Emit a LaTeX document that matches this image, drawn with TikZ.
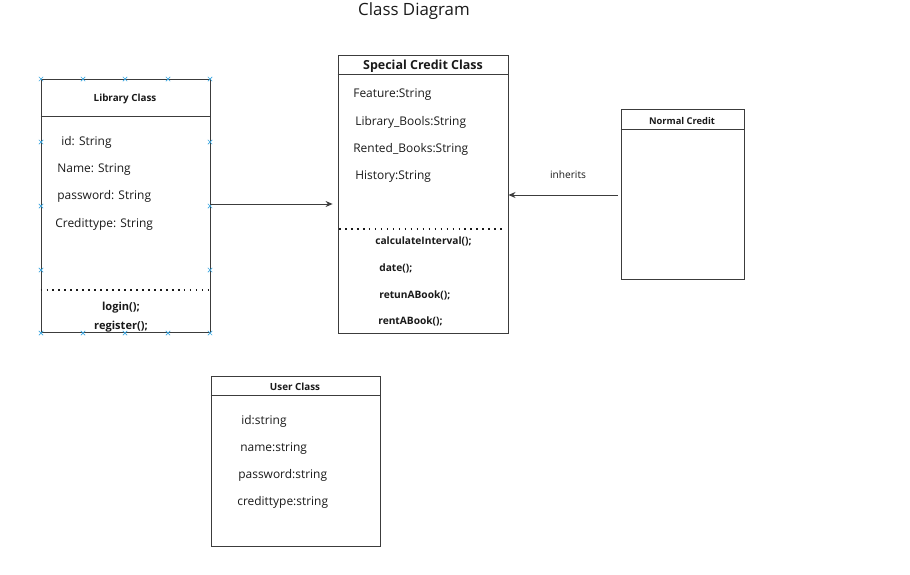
\documentclass[tikz,border=0pt]{standalone}
\usepackage{fontspec}
\setmainfont{Open Sans}
\usepackage{xcolor}
\definecolor{umlEncre}{HTML}{1A1A1A}
\definecolor{umlTrait}{HTML}{3C3C3C}
\definecolor{umlPoignee}{HTML}{3AA6E0}
\usetikzlibrary{arrows.meta, positioning}
\tikzset{
  %% boxes of the class diagram, empty shells; texts are set on top
  classe/.style      = {draw=umlTrait, line width=0.55pt, fill=white,
                        inner sep=0pt},
  titreClasse/.style = {font=\fontsize{5.6}{6}\selectfont\bfseries,
                        text=umlEncre, inner sep=0pt},
  attribut/.style    = {font=\fontsize{6.8}{8}\selectfont, text=umlEncre,
                        anchor=west, inner sep=0pt},
  methode/.style     = {font=\fontsize{5.8}{7}\selectfont\bfseries,
                        text=umlEncre, anchor=west, inner sep=0pt},
  separateur/.style  = {draw=umlEncre, line width=0.9pt,
                        dash pattern=on 0.9pt off 2.5pt},
  fleche/.style      = {-{Stealth[length=4pt, width=3.4pt]}, draw=umlTrait,
                        line width=0.55pt},
  etiquette/.style   = {font=\fontsize{5.8}{7}\selectfont, text=umlEncre,
                        inner sep=0pt},
  poignee/.style     = {draw=umlPoignee, line width=0.4pt},
}

\begin{document}
\begin{tikzpicture}[x=0.02cm, y=-0.02cm]
\useasboundingbox (0,0) rectangle (910,575);

\node[font=\fontsize{9.6}{11}\selectfont, text=umlEncre] (titre) at (414,11.5)
     {Class Diagram};

%% Library Class
\node[classe, minimum width=3.38cm, minimum height=5.08cm] (lib) at (125.5,206) {};
\draw[umlTrait, line width=0.55pt] (lib.west |- 0,116) -- (lib.east |- 0,116);
\node[titreClasse] (libT) at (125,99) {Library Class};
\node[attribut] (libA1) at (61,142.5) {id: String};
\node[attribut] (libA2) at (57,169.5) {Name: String};
\node[attribut] (libA3) at (57,196.5) {password: String};
\node[attribut] (libA4) at (55,224.5) {Credittype: String};
\draw[separateur] (lib.west |- 0,290) -- ([xshift=0.04cm]lib.east |- 0,290);
\node[methode, anchor=center, font=\fontsize{6.3}{7}\selectfont\bfseries] (libM1) at (121,308) {login();};
\node[methode, anchor=center, font=\fontsize{6.3}{7}\selectfont\bfseries] (libM2) at (121,327) {register();};

%% selection handles left on the Library Class
\foreach \hx in {41,83,125,168,210}
  \foreach \hy in {79,333}
    \draw[poignee] (\hx-2.2,\hy-2.2) -- (\hx+2.2,\hy+2.2)
                   (\hx-2.2,\hy+2.2) -- (\hx+2.2,\hy-2.2);
\foreach \hx in {41,210}
  \foreach \hy in {142,206,270}
    \draw[poignee] (\hx-2.2,\hy-2.2) -- (\hx+2.2,\hy+2.2)
                   (\hx-2.2,\hy+2.2) -- (\hx+2.2,\hy-2.2);

%% Special Credit Class
\node[classe, minimum width=3.4cm, minimum height=5.58cm] (spe) at (423,194.5) {};
\draw[umlTrait, line width=0.55pt] (spe.west |- 0,74.5) -- (spe.east |- 0,74.5);
\node[titreClasse, font=\fontsize{7.1}{8}\selectfont\bfseries] (speT) at (423,66) {Special Credit Class};
\node[attribut] (speA1) at (353,94.5) {Feature:String};
\node[attribut] (speA2) at (355,122.5) {Library\_Bools:String};
\node[attribut] (speA3) at (353,149.5) {Rented\_Books:String};
\node[attribut] (speA4) at (355,176.5) {History:String};
\draw[separateur] ([xshift=0.03cm]spe.west |- 0,229) -- ([xshift=-0.05cm]spe.east |- 0,229);
\node[methode] (speM1) at (375,241) {calculateInterval();};
\node[methode] (speM2) at (379,268) {date();};
\node[methode] (speM3) at (379,295) {retunABook();};
\node[methode] (speM4) at (378,321) {rentABook();};

%% Normal Credit
\node[classe, minimum width=2.46cm, minimum height=3.4cm] (nor) at (682.5,194) {};
\draw[umlTrait, line width=0.55pt] (nor.west |- 0,129) -- (nor.east |- 0,129);
\node[titreClasse, font=\fontsize{5.3}{6}\selectfont\bfseries] (norT) at (682,121) {Normal Credit};

%% User Class
\node[classe, minimum width=3.38cm, minimum height=3.4cm] (usr) at (295.5,461) {};
\draw[umlTrait, line width=0.55pt] (usr.west |- 0,395) -- (usr.east |- 0,395);
\node[titreClasse] (usrT) at (295,386.5) {User Class};
\node[attribut] (usrA1) at (241,421.5) {id:string};
\node[attribut] (usrA2) at (240,448.5) {name:string};
\node[attribut] (usrA3) at (238,475.5) {password:string};
\node[attribut] (usrA4) at (237,502.5) {credittype:string};

%% relations
\draw[fleche, shorten >=2.8pt] (lib.east |- 0,204) -- (spe.west |- 0,204);
\draw[fleche, shorten <=1.7pt] (nor.west |- 0,195) -- (spe.east |- 0,195);
\node[etiquette] (herite) at (568,175) {inherits};

\end{tikzpicture}
\end{document}
